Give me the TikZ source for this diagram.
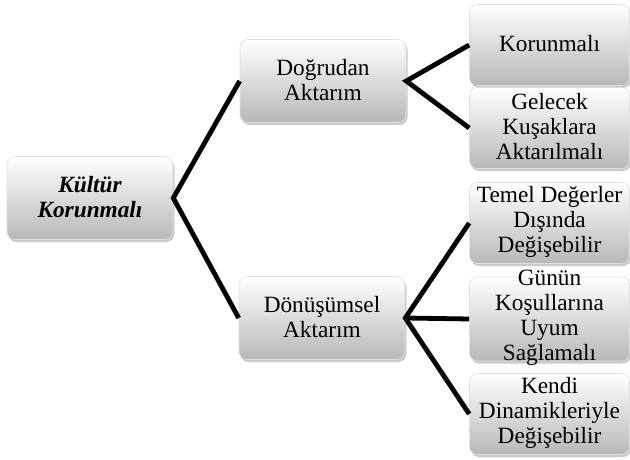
\documentclass[tikz,border=0pt]{standalone}
\usepackage{fontspec}
\setmainfont{Liberation Serif}
\usetikzlibrary{shadows}
\newcommand\boxtxt[1]{\raisebox{-1pt}{\parbox[c][0pt][c]{160pt}{\centering\fontsize{23.3}{25}\selectfont #1}}}
\tikzset{
  gbox/.style={rectangle, rounded corners=8pt, inner sep=0pt,
    minimum width=157pt, minimum height=81pt,
    top color=white, middle color=black!4, bottom color=black!28,
    draw=black!12, line width=0.6pt,
    drop shadow={shadow xshift=1.5pt, shadow yshift=-2.5pt, opacity=0.35, fill=black!60}},
  mbox/.style={gbox, minimum width=166pt, minimum height=83pt},
  conn/.style={line width=4.8pt, black, line cap=butt, line join=miter}
}
\begin{document}
\begin{tikzpicture}[x=1pt,y=-1pt]
\useasboundingbox (0,0) rectangle (630,460);
\node[mbox] (root) at (90,198) {\boxtxt{\bfseries\itshape Kültür\\Korunmalı}};
\node[mbox] (dog) at (323,81) {\boxtxt{Doğrudan\\Aktarım}};
\node[mbox] (don) at (322,318) {\boxtxt{Dönüşümsel\\Aktarım}};
\node[gbox] (kor) at (549.5,45) {\boxtxt{Korunmalı}};
\node[gbox] (gel) at (549.5,128) {\boxtxt{Gelecek\\Kuşaklara\\Aktarılmalı}};
\node[gbox] (tem) at (549.5,223) {\boxtxt{Temel Değerler\\Dışında\\Değişebilir}};
\node[gbox, minimum height=84pt] (gun) at (549.5,319) {\boxtxt{Günün\\Koşullarına\\Uyum\\Sağlamalı}};
\node[gbox] (ken) at (549.5,414) {\boxtxt{Kendi\\Dinamikleriyle\\Değişebilir}};
\draw[conn] (dog.west) -- (root.east) -- (don.west);
\draw[conn] (kor.west) -- (dog.east) -- (gel.west);
\draw[conn] (tem.west) -- (don.east) -- (ken.west);
\draw[conn] (don.east) -- (gun.west);
\end{tikzpicture}
\end{document}
